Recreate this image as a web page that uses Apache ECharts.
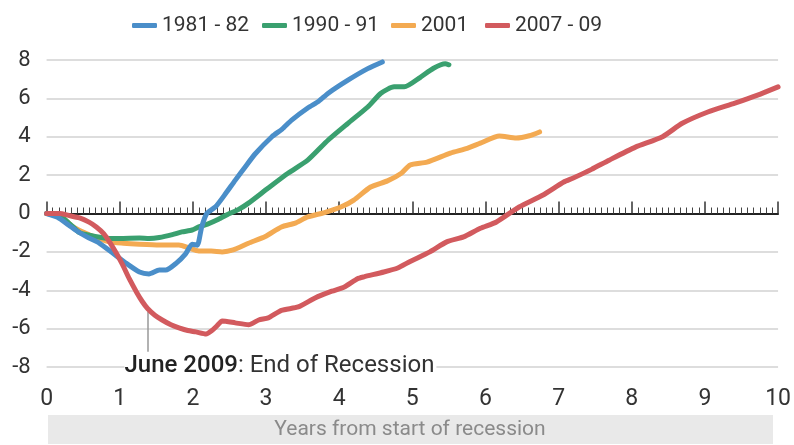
<!DOCTYPE html>
<html><head><meta charset="utf-8">
<script src="https://cdn.jsdelivr.net/npm/echarts@6/dist/echarts.min.js"></script>
<style>html,body{margin:0;padding:0;background:#fff}#c{width:794px;height:445px}</style>
</head><body><div id="c"></div>
<script>
const seriesNames = ['1981 - 82', '1990 - 91', '2001', '2007 - 09'];
const yTicks = [-8, -6, -4, -2, 0, 2, 4, 6, 8];
const xTicks = [0, 1, 2, 3, 4, 5, 6, 7, 8, 9, 10];

const x1981 = [0, 0.15, 0.3, 0.41, 0.55, 0.72, 0.9, 1.09, 1.27, 1.4, 1.54, 1.63, 1.77, 1.9, 1.99, 2.06, 2.12, 2.19, 2.31, 2.45, 2.58, 2.72, 2.85, 3.08, 3.22, 3.35, 3.57, 3.72, 3.85, 4.12, 4.39, 4.59];
const y1981 = [0, -0.2, -0.6, -0.9, -1.22, -1.54, -2.05, -2.6, -3.05, -3.15, -2.95, -2.95, -2.6, -2.1, -1.6, -1.65, -0.7, 0, 0.35, 1.05, 1.74, 2.45, 3.1, 4.0, 4.4, 4.87, 5.5, 5.85, 6.27, 6.95, 7.55, 7.9];

const x1990 = [0, 0.18, 0.32, 0.45, 0.6, 0.75, 0.86, 1.0, 1.27, 1.4, 1.54, 1.72, 1.85, 1.99, 2.08, 2.2, 2.35, 2.5, 2.62, 2.76, 3.03, 3.3, 3.57, 3.85, 4.12, 4.39, 4.57, 4.75, 4.89, 5.11, 5.29, 5.45, 5.5];
const y1990 = [0, -0.1, -0.55, -1.0, -1.15, -1.25, -1.3, -1.3, -1.28, -1.3, -1.25, -1.1, -0.96, -0.86, -0.7, -0.55, -0.3, 0.0, 0.2, 0.54, 1.33, 2.1, 2.78, 3.83, 4.7, 5.55, 6.27, 6.6, 6.6, 7.1, 7.57, 7.8, 7.75];

const x2001 = [0, 0.18, 0.36, 0.59, 0.86, 1.05, 1.27, 1.54, 1.81, 1.95, 2.08, 2.25, 2.4, 2.55, 2.76, 2.99, 3.21, 3.4, 3.57, 3.8, 4.03, 4.2, 4.43, 4.66, 4.85, 4.97, 5.2, 5.52, 5.75, 5.93, 6.19, 6.42, 6.6, 6.74];
const y2001 = [0, -0.1, -0.7, -1.12, -1.48, -1.55, -1.6, -1.64, -1.64, -1.8, -1.95, -1.95, -2.0, -1.9, -1.55, -1.2, -0.7, -0.5, -0.18, 0.05, 0.35, 0.7, 1.38, 1.7, 2.1, 2.53, 2.68, 3.15, 3.4, 3.67, 4.04, 3.93, 4.05, 4.25];

const x2007 = [0, 0.18, 0.3, 0.45, 0.58, 0.68, 0.78, 0.86, 0.95, 1.04, 1.13, 1.23, 1.31, 1.38, 1.48, 1.58, 1.7, 1.81, 1.93, 2.04, 2.18, 2.26, 2.33, 2.4, 2.58, 2.76, 2.9, 3.03, 3.21, 3.44, 3.67, 3.9, 4.07, 4.25, 4.34, 4.61, 4.8, 4.97, 5.24, 5.47, 5.7, 5.93, 6.15, 6.46, 6.78, 7.07, 7.2, 7.45, 7.69, 8.05, 8.42, 8.69, 9.04, 9.41, 9.72, 10.0];
const y2007 = [0, 0, -0.1, -0.23, -0.45, -0.7, -1.05, -1.48, -2.05, -2.68, -3.4, -4.1, -4.6, -4.95, -5.3, -5.55, -5.8, -5.96, -6.1, -6.17, -6.28, -6.1, -5.85, -5.6, -5.7, -5.8, -5.55, -5.44, -5.05, -4.87, -4.4, -4.05, -3.83, -3.4, -3.3, -3.05, -2.84, -2.5, -2.0, -1.48, -1.22, -0.77, -0.44, 0.34, 0.95, 1.64, 1.85, 2.3, 2.78, 3.46, 4.0, 4.7, 5.29, 5.75, 6.17, 6.6];

const annotPoint = [1.38, -5.13];
const annotLineEnd = [1.38, -7.2];
const annotTextAt = [1.065, -7.95];
const annotBold = 'June 2009';
const annotRest = ': End of Recession';
const xTitle = 'Years from start of recession';

const colors = ['#4a8ec9', '#3aa06f', '#f3aa52', '#d25a5e'];
const legendLefts = [127, 257, 386, 480];
const xs = [x1981, x1990, x2001, x2007];
const ys = [y1981, y1990, y2001, y2007];
const zip = (a, b) => a.map((v, i) => [v, b[i]]);

const chart = echarts.init(document.getElementById('c'), null, {renderer: 'canvas'});
const series = seriesNames.map((name, i) => ({
  name, type: 'line', data: zip(xs[i], ys[i]), xAxisIndex: 0,
  showSymbol: false, smooth: 0.2, z: [4, 3, 2, 5][i],
  lineStyle: {color: colors[i], width: 5, cap: 'round', join: 'round'},
  itemStyle: {color: colors[i]}
}));
series[3].markLine = {
  silent: true, symbol: 'none', label: {show: false},
  lineStyle: {color: '#999', width: 1.5, type: 'solid'},
  data: [[{coord: annotPoint}, {coord: annotLineEnd}]]
};
series[3].markPoint = {
  silent: true, symbol: 'circle', symbolSize: 0,
  data: [{coord: annotTextAt}],
  label: {
    show: true, position: 'right', distance: 0,
    formatter: '{b|' + annotBold + '}{n|' + annotRest + '}',
    backgroundColor: '#fff', padding: [0, 2, 0, 0],
    rich: {
      b: {fontFamily: 'Roboto', fontSize: 24, fontWeight: 500, color: '#222'},
      n: {fontFamily: 'Roboto', fontSize: 24, fontWeight: 400, color: '#333'}
    }
  }
};

chart.setOption({
  animation: false,
  color: colors,
  legend: seriesNames.map((name, i) => ({
    data: [name], left: legendLefts[i], top: 10, itemWidth: 25, itemHeight: 5,
    icon: 'roundRect',
    textStyle: {fontFamily: 'Roboto', fontSize: 21, color: '#333'}
  })),
  grid: {left: 46.6, right: 10.4, top: 60, bottom: 78, containLabel: false},
  xAxis: [{
    type: 'value', min: xTicks[0], max: xTicks[xTicks.length - 1], interval: 1,
    axisLine: {show: true, onZero: true, lineStyle: {color: '#222', width: 2}},
    axisTick: {show: true, inside: true, length: 12, lineStyle: {color: '#333', width: 1.5}},
    minorTick: {show: true, splitNumber: 12, length: 6, lineStyle: {color: '#444', width: 1}},
    axisLabel: {show: false}, splitLine: {show: false}
  }, {
    type: 'value', position: 'bottom', min: xTicks[0], max: xTicks[xTicks.length - 1], interval: 1,
    axisLine: {show: false, onZero: false}, axisTick: {show: false},
    axisLabel: {show: true, margin: 21, fontFamily: 'Roboto', fontSize: 23, color: '#333'},
    splitLine: {show: false}
  }],
  yAxis: {
    type: 'value', min: yTicks[0], max: yTicks[yTicks.length - 1], interval: 2,
    axisLine: {show: false}, axisTick: {show: false},
    axisLabel: {margin: 16, fontFamily: 'Roboto', fontSize: 22, color: '#333'},
    splitLine: {show: true, lineStyle: {color: '#d2d2d2', width: 1.5}}
  },
  graphic: [{
    type: 'group', left: 48, top: 415,
    children: [
      {type: 'rect', shape: {x: 0, y: 0, width: 725, height: 29}, style: {fill: '#e9e9e9'}},
      {type: 'text', x: 362, y: 15, style: {text: xTitle, fontFamily: 'Roboto', fontSize: 21, fill: '#8a8a8a', align: 'center', verticalAlign: 'middle'}}
    ]
  }],
  series
});
</script></body></html>
